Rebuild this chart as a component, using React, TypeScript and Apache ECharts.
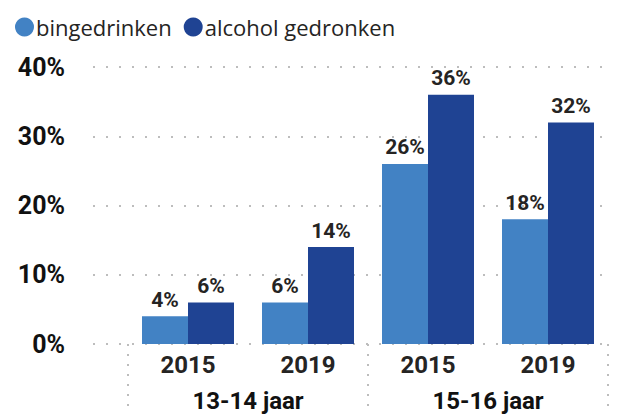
import React, { useEffect, useRef } from "react";
import * as echarts from "echarts";

const years = ["2015", "2019", "2015", "2019"];
const ageGroups = ["13-14 jaar", "15-16 jaar"];
const seriesNames = ["bingedrinken", "alcohol gedronken"];
const bingedrinken = [4, 6, 26, 18];
const alcoholGedronken = [6, 14, 36, 32];
const yTicks = [0, 10, 20, 30, 40];

const LIGHT = "#4282C4";
const DARK = "#1F4393";
const TEXT = "#252423";
const DOT = "#BDBDBD";

export default function App() {
  const ref = useRef<HTMLDivElement>(null);
  useEffect(() => {
    if (!ref.current) return;
    const chart = echarts.init(ref.current, null, { renderer: "svg" });
    const labelFont = "Roboto, 'Noto Sans', sans-serif";
    const barLabel = {
      show: true,
      position: "top",
      distance: 6,
      formatter: "{c}%",
      fontFamily: labelFont,
      fontWeight: "bold",
      fontSize: 21,
      color: TEXT,
    };
    chart.setOption({
      animation: false,
      legend: {
        left: 10,
        top: 11,
        itemWidth: 19,
        itemHeight: 19,
        itemGap: 12,
        icon: "circle",
        textStyle: {
          fontFamily: "'Open Sans', 'Noto Sans', sans-serif",
          fontSize: 22,
          color: TEXT,
          padding: [0, 0, 0, -3],
        },
        data: seriesNames,
      },
      grid: [
        { left: 93, right: 25, top: 67, bottom: 71 },
        { left: 128, right: 25, top: 67, bottom: 71 },
      ],
      xAxis: [
        { type: "value", gridIndex: 0, show: false, min: 0, max: 1 },
        {
          type: "category",
          gridIndex: 1,
          data: years,
          axisLine: { show: false },
          axisTick: { show: false },
          axisLabel: {
            margin: 9,
            fontFamily: labelFont,
            fontWeight: "bold",
            fontSize: 24,
            color: TEXT,
          },
        },
        {
          type: "category",
          gridIndex: 1,
          position: "bottom",
          data: ageGroups,
          axisLine: { show: false },
          axisTick: {
            show: true,
            length: 66,
            interval: 0,
            lineStyle: { color: DOT, width: 2, type: [2, 8] },
          },
          axisLabel: {
            margin: 45,
            fontFamily: labelFont,
            fontWeight: "bold",
            fontSize: 24,
            color: "#111",
          },
        },
      ],
      yAxis: [
        {
          type: "value",
          gridIndex: 0,
          min: yTicks[0],
          max: yTicks[yTicks.length - 1],
          interval: 10,
          axisLine: { show: false },
          axisTick: { show: false },
          axisLabel: {
            margin: 28,
            formatter: "{value}%",
            fontFamily: labelFont,
            fontWeight: "bold",
            fontSize: 25,
            color: "#111",
          },
          splitLine: {
            show: true,
            lineStyle: { color: DOT, width: 2, type: [2, 11] },
          },
        },
        {
          type: "value",
          gridIndex: 1,
          min: yTicks[0],
          max: yTicks[yTicks.length - 1],
          interval: 10,
          show: false,
          splitLine: { show: false },
        },
      ],
      series: [
        {
          name: seriesNames[0],
          type: "bar",
          xAxisIndex: 1,
          yAxisIndex: 1,
          data: bingedrinken,
          barWidth: 46,
          barGap: "0%",
          itemStyle: { color: LIGHT },
          label: barLabel,
        },
        {
          name: seriesNames[1],
          type: "bar",
          xAxisIndex: 1,
          yAxisIndex: 1,
          data: alcoholGedronken,
          barWidth: 46,
          barGap: "0%",
          itemStyle: { color: DARK },
          label: barLabel,
        },
      ],
    });
    return () => chart.dispose();
  }, []);
  return (
    <div
      ref={ref}
      style={{ width: 633, height: 415, position: "absolute", left: 0, top: 0 }}
    />
  );
}
